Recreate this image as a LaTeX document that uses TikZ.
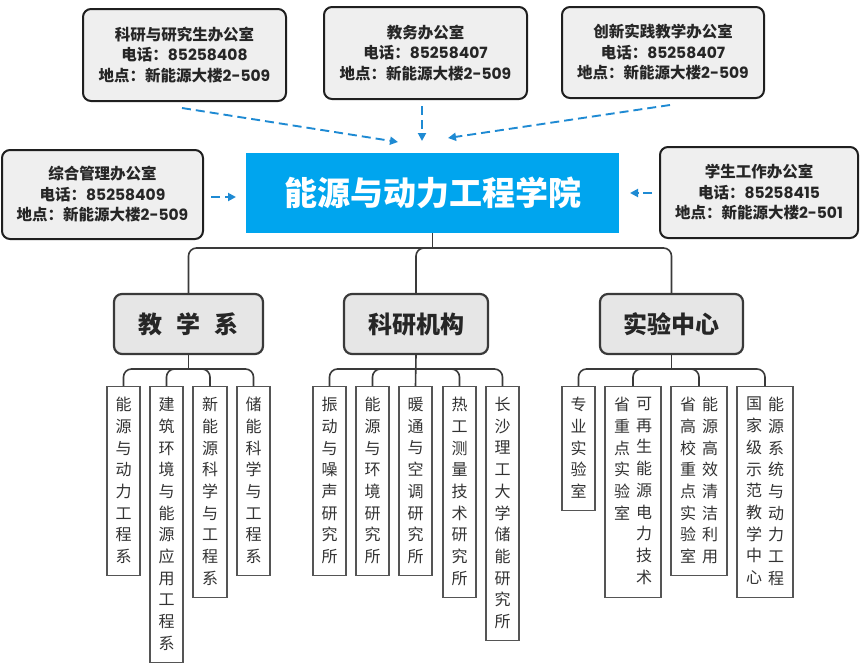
\documentclass[tikz,border=0pt]{standalone}
\usepackage{fontspec}
\setmainfont{Noto Sans CJK SC}
\newfontfamily\popfont{Poppins}
\usetikzlibrary{arrows.meta,calc}
\definecolor{arrowblue}{HTML}{1E8AD3}
\definecolor{collegeblue}{HTML}{00A5EE}
\definecolor{officefill}{HTML}{EFEFEF}
\definecolor{deptfill}{HTML}{E6E6E6}
\definecolor{linegray}{HTML}{3A3A3A}
\definecolor{leafgray}{HTML}{555555}
\definecolor{txtgray}{HTML}{333333}
\newcommand{\dg}[1]{{\popfont\bfseries #1}}
\begin{document}
\begin{tikzpicture}[x=1pt,y=-1pt,
  office/.style={draw=black!88,line width=2pt,fill=officefill,rounded corners=8pt,
    minimum width=#1,align=center,inner sep=0pt,
    font=\fontsize{15.5}{20.5}\selectfont\bfseries,text=black!85},
  college/.style={fill=collegeblue,minimum width=373pt,minimum height=80pt,inner sep=0pt,
    text=white,font=\fontsize{33}{33}\selectfont\bfseries},
  dept/.style={draw=linegray,line width=2.2pt,fill=deptfill,rounded corners=8pt,
    minimum width=#1,minimum height=60pt,inner sep=0pt,
    text=black!85,font=\fontsize{24}{24}\selectfont\bfseries},
  leafbox/.style={draw=leafgray,line width=1.3pt,fill=white,anchor=north,inner sep=0pt},
  leaftxt/.style={anchor=north,align=center,inner sep=0pt,text=txtgray,
    font=\fontsize{16}{21.7}\selectfont},
  tree/.style={draw=linegray,line width=1.6pt,rounded corners=8pt},
  dasharrow/.style={draw=arrowblue,line width=1.9pt,dash pattern=on 9pt off 5pt,
    -{Triangle[length=8pt,width=8pt]}}
]
\useasboundingbox (0,0) rectangle (860,670);

% offices
\node[office=203pt,minimum height=92pt] (kyy) at (184.5,55) {科研与研究生办公室\\电话：\dg{85258408}\\地点：新能源大楼\dg{2-509}};
\node[office=203pt,minimum height=92pt] (jw) at (425.5,53) {教务办公室\\电话：\dg{85258407}\\地点：新能源大楼\dg{2-509}};
\node[office=202pt,minimum height=91pt] (cx) at (663,52.5) {创新实践教学办公室\\电话：\dg{85258407}\\地点：新能源大楼\dg{2-509}};
\node[office=201pt,minimum height=89pt] (zh) at (102.5,194.5) {综合管理办公室\\电话：\dg{85258409}\\地点：新能源大楼\dg{2-509}};
\node[office=198pt,minimum height=91pt] (xs) at (759,192.5) {学生工作办公室\\电话：\dg{85258415}\\地点：新能源大楼\dg{2-501}};

% college
\node[college] (col) at (432.5,193) {能源与动力工程学院};

% arrows
\coordinate (t1) at (398,142);
\coordinate (t2) at (422,141);
\coordinate (t3) at (448,138);
\coordinate (t4) at (236,197);
\coordinate (t5) at (630,193);
\draw[dasharrow] ($(kyy.south)+(-2.5,6)$) -- (t1);
\draw[dasharrow] ($(jw.south)+(-3.5,6)$) -- (t2);
\draw[dasharrow] ($(cx.south)+(7,6)$) -- (t3);
\draw[dasharrow] ($(zh.east)+(7,2.5)$) -- (t4);
\draw[dasharrow] ($(xs.west)+(-7,0.5)$) -- (t5);

% departments
\node[dept=149pt] (jx) at (188.5,324) {教\hspace{0.6em}学\hspace{0.6em}系};
\node[dept=144pt] (ky) at (416,324) {科研机构};
\node[dept=143pt] (sy) at (671.5,324) {实验中心};

\draw[tree,rounded corners=0pt] (col.south) -- (432.5,248);
\draw[tree] (jx.north) -- (188.5,248) -- (671.5,248) -- (sy.north);
\draw[tree] (ky.north) -- (416,248) -- (440,248);

% leaves: teaching
\node[leafbox,minimum width=33pt,minimum height=189pt] (a1) at (123.5,386) {};
\node[leafbox,minimum width=33pt,minimum height=276pt] (a2) at (166.5,386) {};
\node[leafbox,minimum width=34pt,minimum height=211pt] (a3) at (210,386) {};
\node[leafbox,minimum width=33pt,minimum height=189pt] (a4) at (253.5,386) {};
\node[leaftxt] (a1t) at ($(a1.north)+(0,11)$) {能\\源\\与\\动\\力\\工\\程\\系};
\node[leaftxt] (a2t) at ($(a2.north)+(0,11)$) {建\\筑\\环\\境\\与\\能\\源\\应\\用\\工\\程\\系};
\node[leaftxt] (a3t) at ($(a3.north)+(0,11)$) {新\\能\\源\\科\\学\\与\\工\\程\\系};
\node[leaftxt] (a4t) at ($(a4.north)+(0,11)$) {储\\能\\科\\学\\与\\工\\程\\系};
\draw[tree,rounded corners=0pt] (jx.south) -- (188.5,369);
\draw[tree] (a1.north) -- (123.5,369) -- (253.5,369) -- (a4.north);
\draw[tree] (a2.north) -- (166.5,369) -- (188.5,369);
\draw[tree] (a3.north) -- (210,369) -- (188.5,369);

% leaves: research
\node[leafbox,minimum width=33pt,minimum height=189pt] (k1) at (329.5,386) {};
\node[leafbox,minimum width=33pt,minimum height=189pt] (k2) at (372.5,386) {};
\node[leafbox,minimum width=33pt,minimum height=189pt] (k3) at (415.5,386) {};
\node[leafbox,minimum width=33pt,minimum height=211pt] (k4) at (459.5,386) {};
\node[leafbox,minimum width=33pt,minimum height=254pt] (k5) at (502.5,386) {};
\node[leaftxt] (k1t) at ($(k1.north)+(0,11)$) {振\\动\\与\\噪\\声\\研\\究\\所};
\node[leaftxt] (k2t) at ($(k2.north)+(0,11)$) {能\\源\\与\\环\\境\\研\\究\\所};
\node[leaftxt] (k3t) at ($(k3.north)+(0,11)$) {暖\\通\\与\\空\\调\\研\\究\\所};
\node[leaftxt] (k4t) at ($(k4.north)+(0,11)$) {热\\工\\测\\量\\技\\术\\研\\究\\所};
\node[leaftxt] (k5t) at ($(k5.north)+(0,11)$) {长\\沙\\理\\工\\大\\学\\储\\能\\研\\究\\所};
\draw[tree,rounded corners=0pt] (ky.south) -- (k3.north);
\draw[tree] (k1.north) -- (329.5,369) -- (502.5,369) -- (k5.north);
\draw[tree] (k2.north) -- (372.5,369) -- (416,369);
\draw[tree] (k4.north) -- (459.5,369) -- (416,369);

% leaves: lab center
\node[leafbox,minimum width=33pt,minimum height=124pt] (s1) at (578.5,386) {};
\node[leafbox,minimum width=56pt,minimum height=211pt] (s2) at (633,386) {};
\node[leafbox,minimum width=56pt,minimum height=189pt] (s3) at (699,386) {};
\node[leafbox,minimum width=56pt,minimum height=211pt] (s4) at (765,386) {};
\node[leaftxt] (s1t) at ($(s1.north)+(0,11)$) {专\\业\\实\\验\\室};
\node[leaftxt] (s2l) at ($(s2.north)+(-11,11)$) {省\\重\\点\\实\\验\\室};
\node[leaftxt] (s2r) at ($(s2.north)+(11,11)$) {可\\再\\生\\能\\源\\电\\力\\技\\术};
\node[leaftxt] (s3l) at ($(s3.north)+(-11,11)$) {省\\高\\校\\重\\点\\实\\验\\室};
\node[leaftxt] (s3r) at ($(s3.north)+(11,11)$) {能\\源\\高\\效\\清\\洁\\利\\用};
\node[leaftxt] (s4l) at ($(s4.north)+(-11,11)$) {国\\家\\级\\示\\范\\教\\学\\中\\心};
\node[leaftxt] (s4r) at ($(s4.north)+(11,11)$) {能\\源\\系\\统\\与\\动\\力\\工\\程};
\draw[tree,rounded corners=0pt] (sy.south) -- (671.5,369);
\draw[tree] (s1.north) -- (578.5,369) -- (765,369) -- (s4.north);
\draw[tree] (s2.north) -- (633,369) -- (671.5,369);
\draw[tree] (s3.north) -- (699,369) -- (671.5,369);
\end{tikzpicture}
\end{document}
